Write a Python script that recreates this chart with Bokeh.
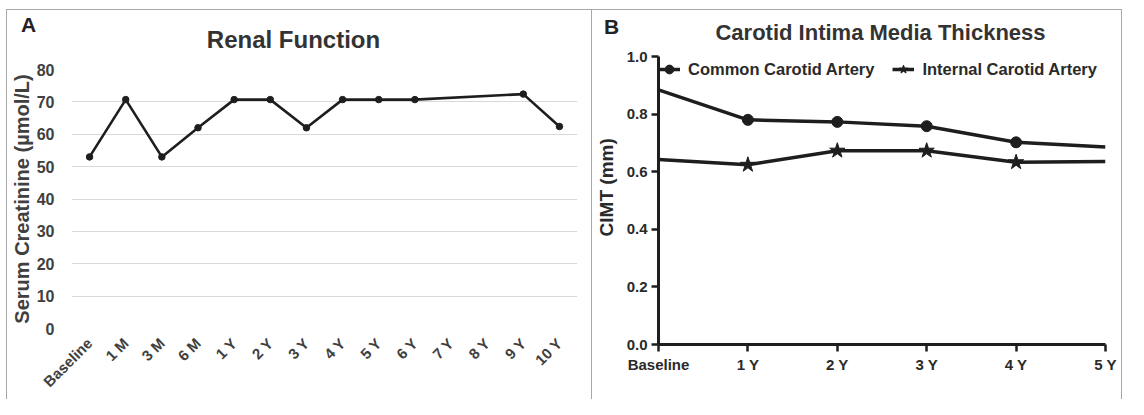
import math
from bokeh.plotting import figure
from bokeh.layouts import row, column
from bokeh.models import (Range1d, FactorRange, FixedTicker, Label, Legend,
                          LegendItem, PrintfTickFormatter, Spacer)
from bokeh.embed import file_html
from bokeh.resources import INLINE

# ---------------- data ----------------
renal_labels = ["Baseline", "1 M", "3 M", "6 M", "1 Y", "2 Y", "3 Y", "4 Y",
                "5 Y", "6 Y", "7 Y", "8 Y", "9 Y", "10 Y"]
creatinine = [53.0, 70.7, 53.0, 62.0, 70.7, 70.7, 62.0, 70.7, 70.7, 70.7,
              None, None, 72.4, 62.4]
renal_yticks = [0, 10, 20, 30, 40, 50, 60, 70, 80]

cimt_labels = ["Baseline", "1 Y", "2 Y", "3 Y", "4 Y", "5 Y"]
cca = [0.884, 0.780, 0.773, 0.758, 0.702, 0.686]
ica = [0.642, 0.624, 0.673, 0.673, 0.633, 0.635]
cimt_yticks = [0.0, 0.2, 0.4, 0.6, 0.8, 1.0]

FONT = "Liberation Sans"
GREY_TXT = "#404040"
DARK = "#1e1e1e"
BORDER = "1px solid #a8a8a8"

WA, WB = 586, 530
HEAD_A, HEAD_B = 44, 36
TOTAL_H = 390


def header(width, height, styles):
    h = figure(width=width, height=height, output_backend="svg",
               toolbar_location=None, x_range=Range1d(0, width),
               y_range=Range1d(0, height), x_axis_type=None, y_axis_type=None,
               min_border_left=0, min_border_right=0, min_border_top=0,
               min_border_bottom=0)
    h.grid.visible = False
    h.outline_line_color = None
    h.styles = styles
    if hasattr(h, "frame_align"):
        h.frame_align = False
    return h


# ---------------- panel A ----------------
ha = header(WA, HEAD_A, {"border-left": BORDER, "border-top": BORDER,
                         "border-right": BORDER})
ha.add_layout(Label(x=13.5, y=30, text="A", text_font=FONT, text_font_style="bold",
                    text_font_size="21px", text_color="#222222",
                    text_baseline="alphabetic"))
ha.add_layout(Label(x=286, y=15, text="Renal Function", text_align="center",
                    text_font=FONT, text_font_style="bold", text_font_size="24px",
                    text_color="#333333", text_baseline="alphabetic"))

pa = figure(width=WA, height=TOTAL_H - HEAD_A, output_backend="svg",
            toolbar_location=None,
            x_range=FactorRange(*renal_labels), y_range=Range1d(0, 80),
            min_border_left=64, min_border_right=16, min_border_top=16,
            min_border_bottom=71)
pa.styles = {"border-left": BORDER, "border-right": BORDER}
pa.outline_line_color = None
if hasattr(pa, "frame_align"):
    pa.frame_align = False

xs_a = [c for c, v in zip(renal_labels, creatinine) if v is not None]
ys_a = [v for v in creatinine if v is not None]
pa.line(xs_a, ys_a, line_color=DARK, line_width=2.6)
pa.scatter(xs_a, ys_a, size=6.5, marker="circle", fill_color=DARK, line_color=DARK)

pa.xgrid.grid_line_color = None
pa.ygrid.grid_line_color = "#d9d9d9"
pa.ygrid.grid_line_width = 1.2
pa.yaxis.ticker = FixedTicker(ticks=renal_yticks)
for ax in (pa.xaxis[0], pa.yaxis[0]):
    ax.axis_line_color = None
    ax.major_tick_line_color = None
    ax.minor_tick_line_color = None
    ax.major_label_text_font = FONT
    ax.major_label_text_font_style = "bold"
    ax.major_label_text_color = GREY_TXT
pa.yaxis.major_label_text_font_size = "16px"
pa.yaxis.major_label_standoff = 11
pa.yaxis.axis_label = "Serum Creatinine (µmol/L)"
pa.yaxis.axis_label_text_font = FONT
pa.yaxis.axis_label_text_font_style = "bold"
pa.yaxis.axis_label_text_font_size = "20px"
pa.yaxis.axis_label_text_color = GREY_TXT
pa.yaxis.axis_label_standoff = 1
pa.xaxis.major_label_orientation = math.pi / 4
pa.xaxis.major_label_text_font_size = "15px"
pa.xaxis.major_label_standoff = 6

# ---------------- panel B ----------------
hb = header(WB, HEAD_B, {"border-top": BORDER, "border-right": BORDER})
hb.add_layout(Label(x=11.5, y=20.5, text="B", text_font=FONT, text_font_style="bold",
                    text_font_size="21px", text_color="#222222",
                    text_baseline="alphabetic"))
hb.add_layout(Label(x=288, y=14.5, text="Carotid Intima Media Thickness",
                    text_align="center", text_font=FONT, text_font_style="bold",
                    text_font_size="22px", text_color="#333333",
                    text_baseline="alphabetic"))

pb = figure(width=WB, height=TOTAL_H - HEAD_B, output_backend="svg",
            toolbar_location=None,
            x_range=Range1d(0, len(cimt_labels) - 1), y_range=Range1d(0, 1.0),
            min_border_left=62, min_border_right=17, min_border_top=11,
            min_border_bottom=55)
pb.styles = {"border-right": BORDER}
pb.outline_line_color = None
pb.grid.grid_line_color = None
if hasattr(pb, "frame_align"):
    pb.frame_align = False

xb = list(range(len(cimt_labels)))
l1 = pb.line(xb, cca, line_color=DARK, line_width=3.5)
s1 = pb.scatter(xb[1:-1], cca[1:-1], marker="circle", size=11,
                fill_color=DARK, line_color=DARK)
l2 = pb.line(xb, ica, line_color=DARK, line_width=3.5)
s2 = pb.scatter(xb[1:-1], ica[1:-1], marker="star", size=16,
                fill_color=DARK, line_color=DARK)

pb.xaxis.ticker = FixedTicker(ticks=xb)
pb.xaxis.major_label_overrides = {i: lab for i, lab in enumerate(cimt_labels)}
pb.yaxis.ticker = FixedTicker(ticks=cimt_yticks)
pb.yaxis.formatter = PrintfTickFormatter(format="%.1f")
for ax in (pb.xaxis[0], pb.yaxis[0]):
    ax.axis_line_color = DARK
    ax.axis_line_width = 3
    ax.major_tick_line_color = DARK
    ax.major_tick_line_width = 2.5
    ax.major_tick_out = 7
    ax.major_tick_in = 0
    ax.minor_tick_line_color = None
    ax.major_label_text_font = FONT
    ax.major_label_text_font_style = "bold"
    ax.major_label_text_font_size = "15px"
    ax.major_label_text_color = "#2a2a2a"
    ax.major_label_standoff = 4
pb.yaxis.axis_label = "\u00a0" * 5 + "CIMT (mm)"
pb.yaxis.axis_label_text_font = FONT
pb.yaxis.axis_label_text_font_style = "bold"
pb.yaxis.axis_label_text_font_size = "19px"
pb.yaxis.axis_label_text_color = "#2a2a2a"
pb.yaxis.axis_label_standoff = 7

legend = Legend(items=[LegendItem(label="Common Carotid Artery", renderers=[l1, s1]),
                       LegendItem(label="Internal Carotid Artery", renderers=[l2, s2])],
                orientation="horizontal", location="top_left")
legend.background_fill_alpha = 0
legend.border_line_color = None
legend.label_text_font = FONT
legend.label_text_font_style = "bold"
legend.label_text_font_size = "16.5px"
legend.label_text_color = "#2a2a2a"
legend.glyph_width = 22
legend.glyph_height = 26
legend.label_height = 26
legend.label_standoff = 8
legend.spacing = 18
legend.padding = 3
legend.margin = 0
pb.add_layout(legend)

col_a = column(ha, pa, spacing=0)
col_b = column(hb, pb, spacing=0)
layout = column(Spacer(width=1128, height=9),
                row(Spacer(width=6, height=TOTAL_H), col_a, col_b, spacing=0),
                spacing=0)
open("out.html", "w").write(file_html(layout, INLINE))
